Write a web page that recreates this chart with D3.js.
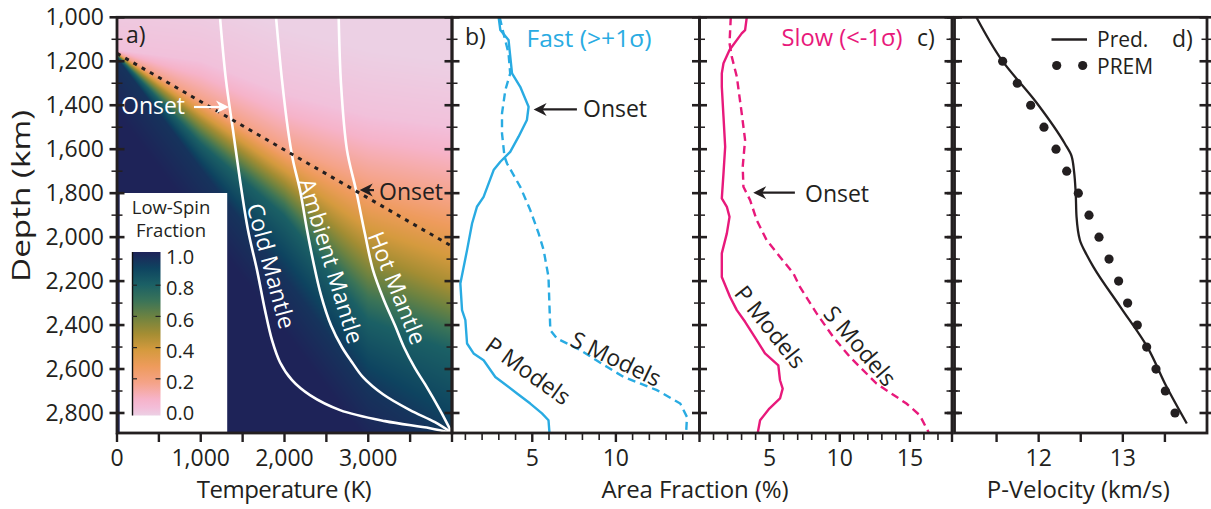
<!DOCTYPE html>
<html>
<head>
<meta charset="utf-8">
<script src="https://cdn.jsdelivr.net/npm/d3@7/dist/d3.min.js"></script>
<style>
html,body{margin:0;padding:0;background:#fff;}
svg text{font-family:"Open Sans","Liberation Sans",Arial,sans-serif;fill:#231f20;}
</style>
</head>
<body>
<svg id="chart" width="1211" height="509"></svg>
<script>
// ================= DATA =================
const depthTicks = [1000,1100,1200,1300,1400,1500,1600,1700,1800,1900,2000,2100,2200,2300,2400,2500,2600,2700,2800];
const depthTickLabels = [1000,1200,1400,1600,1800,2000,2200,2400,2600,2800];
const tempTicks = [0,500,1000,1500,2000,2500,3000,3500,4000];
const tempTickLabels = [0,1000,2000,3000];
const fastTicks = [1,2,3,4,5,6,7,8,9,10,11,12,13,14,15];
const fastTickLabels = [5,10];
const slowTicks = [1,2,3,4,5,6,7,8,9,10,11,12,13,14,15,16,17,18];
const slowTickLabels = [5,10,15];
const velTicks = [11.5,12,12.5,13,13.5];
const velTickLabels = [12,13];
const colorbarTicks = [0.2,0.4,0.6,0.8];
const colorbarTickLabels = [0.0,0.2,0.4,0.6,0.8,1.0];

// Panel a: low-spin fraction field, depths (km) where given fractions are reached, per temperature
const heatTemps   = [0, 1000, 2000, 3000, 4000];
const heatLevels  = [0.04, 0.2, 0.5, 0.8, 0.95];
const heatDepth04 = [1150, 1200, 1350, 1450, 1500];
const heatDepth20 = [1162, 1375, 1590, 1740, 1820];
const heatDepth50 = [1168, 1470, 1750, 2075, 2230];
const heatDepth80 = [1175, 1575, 1905, 2380, 2520];
const heatDepth95 = [1185, 1690, 2180, 2690, 2950];

// colour map of the low-spin fraction
const cmapStops  = [0, 0.05, 0.1, 0.2, 0.3, 0.4, 0.5, 0.6, 0.7, 0.8, 0.9, 1.0];
const cmapColors = ['#ecd0e4','#f3bdd8','#f6b3c9','#f5a388','#ee9b5c','#d59a3e','#a48d33','#6f8340','#3b7458','#1b6065','#0e4460','#1e2358'];

// geotherms (temperature K, depth km)
const coldT = [1230,1301,1385,1469,1564,1672,1767,1851,1946,2090,2304,2663,3200,3737,4000];
const coldD = [1000,1285,1513,1741,1968,2150,2332,2469,2569,2651,2719,2787,2837,2869,2891];
const ambT  = [1899,1970,2042,2101,2185,2269,2340,2436,2555,2687,2806,2937,3176,3499,3797,4000];
const ambD  = [1000,1285,1513,1650,1786,1968,2105,2264,2401,2501,2569,2637,2715,2787,2842,2891];
const hotT  = [2647,2675,2746,2854,2961,3057,3188,3319,3427,3558,3678,3857,4000];
const hotD  = [1000,1304,1604,1786,1986,2150,2287,2401,2501,2596,2669,2787,2891];
const onsetT = [0, 4000];
const onsetD = [1164, 2042];

// Panel b: fast (> +1 sigma) area fraction (%)
const fastPDepth = [1000,1058,1103,1255,1316,1407,1467,1543,1612,1657,1695,1817,1862,1938,2059,2211,2332,2378,2484,2529,2560,2636,2711,2757,2802,2833,2891];
const fastPVal   = [2.99,3.09,3.58,3.79,4.28,4.78,4.68,4.18,3.68,3.09,2.69,2.09,1.69,1.40,1.10,0.70,0.80,1.00,1.10,1.49,2.09,2.79,4.09,4.88,5.58,5.97,6.03];
const fastSDepth = [1000,1073,1164,1255,1331,1437,1528,1634,1665,1771,1877,1983,2059,2181,2317,2423,2461,2514,2590,2636,2696,2757,2818,2891];
const fastSVal   = [3.05,3.28,3.58,3.68,3.39,3.19,3.19,3.34,3.49,4.28,4.88,5.38,5.68,5.97,6.03,6.08,6.48,7.87,9.46,10.46,12.45,13.85,14.25,14.20];

// Panel c: slow (< -1 sigma) area fraction (%)
const slowPDepth = [1000,1058,1073,1149,1209,1255,1316,1452,1589,1710,1824,1862,1908,1983,2074,2181,2272,2332,2385,2469,2529,2583,2651,2689,2734,2780,2833,2891];
const slowPVal   = [3.37,3.25,3.01,2.14,1.71,1.59,1.59,1.71,1.83,1.71,1.59,1.95,2.14,1.95,1.59,1.59,2.18,2.66,3.25,4.08,4.67,5.62,5.74,5.93,5.74,4.98,4.32,4.15];
const slowSDepth = [1000,1118,1179,1270,1437,1558,1680,1771,1832,1923,2014,2090,2165,2226,2347,2454,2545,2666,2757,2810,2891];
const slowSVal   = [2.23,2.14,2.30,2.66,3.01,3.25,3.08,3.13,3.61,4.08,4.79,5.74,6.69,7.16,8.35,9.53,10.72,12.62,14.75,15.70,16.36];

// Panel d: P-velocity (km/s)
const predDepth = [1000,1194,1391,1574,1630,1700,1800,1908,2014,2080,2135,2317,2499,2681,2848];
const predVel   = [11.26,11.56,11.98,12.31,12.39,12.42,12.44,12.45,12.49,12.57,12.65,12.97,13.29,13.52,13.76];
const premDepth = [1200,1300,1400,1500,1600,1700,1800,1900,2000,2100,2200,2300,2400,2500,2600,2700,2800];
const premVel   = [11.572,11.746,11.905,12.063,12.206,12.333,12.471,12.598,12.717,12.836,12.950,13.057,13.172,13.283,13.394,13.505,13.620];

// ================= LAYOUT =================
const INK = '#231f20';
const FAST = '#29abe2';
const SLOW = '#e8197b';
const svg = d3.select('#chart');

const y  = d3.scaleLinear().domain([1000, 2891]).range([17.3, 433]);
const xA = d3.scaleLinear().domain([0, 4000]).range([117, 452]);
const xB = d3.scaleLinear().domain([0.2, 15]).range([452, 699.5]);
const xC = d3.scaleLinear().domain([0, 18]).range([699.5, 952]);
const xD = d3.scaleLinear().domain([11, 14]).range([954.5, 1207]);
const cmap = d3.scaleLinear().domain(cmapStops).range(cmapColors).interpolate(d3.interpolateRgb).clamp(true);

// ---------- Panel a heat field (canvas -> image) ----------
(function(){
  const x0 = xA.range()[0], x1 = xA.range()[1];
  const y0 = y.range()[0], y1 = y.range()[1];
  const w = Math.round(x1 - x0), h = Math.round(y1 - y0);
  const cv = document.createElement('canvas');
  cv.width = w; cv.height = h;
  const ctx = cv.getContext('2d');
  const img = ctx.createImageData(w, h);
  const levelSeries = [heatDepth04, heatDepth20, heatDepth50, heatDepth80, heatDepth95];
  const interps = levelSeries.map(s => d3.scaleLinear().domain(heatTemps).range(s));
  for (let i = 0; i < w; i++) {
    const T = xA.invert(x0 + i + 0.5);
    const ds = interps.map(f => f(T));
    const dom = [ds[0] - 300].concat(ds, [ds[4] + 250]);
    const rng = [0].concat(heatLevels, [1]);
    const fr = d3.scaleLinear().domain(dom).range(rng).clamp(true);
    for (let j = 0; j < h; j++) {
      const d = y.invert(y0 + j + 0.5);
      const c = d3.rgb(cmap(fr(d)));
      const k = (j * w + i) * 4;
      img.data[k] = c.r; img.data[k+1] = c.g; img.data[k+2] = c.b; img.data[k+3] = 255;
    }
  }
  ctx.putImageData(img, 0, 0);
  svg.append('image')
    .attr('href', cv.toDataURL())
    .attr('x', x0).attr('y', y0).attr('width', x1 - x0).attr('height', y1 - y0)
    .attr('preserveAspectRatio', 'none');
})();

// geotherms
const geoLine = d3.line().x(p => xA(p[0])).y(p => y(p[1])).curve(d3.curveCatmullRom.alpha(0.5));
[[coldT, coldD], [ambT, ambD], [hotT, hotD]].forEach(([T, D]) => {
  svg.append('path').datum(T.map((t, i) => [t, D[i]]))
    .attr('d', geoLine).attr('fill', 'none').attr('stroke', '#fff').attr('stroke-width', 2.6);
});
// onset dotted line
svg.append('path').datum(onsetT.map((t, i) => [t, onsetD[i]]))
  .attr('d', d3.line().x(p => xA(p[0])).y(p => y(p[1])))
  .attr('fill', 'none').attr('stroke', INK).attr('stroke-width', 3).attr('stroke-dasharray', '4,5.5');

// geotherm labels
function rotText(txt, cx, cy, ang, size, fill) {
  svg.append('text').attr('transform', `translate(${cx},${cy}) rotate(${ang})`)
    .attr('text-anchor', 'middle').attr('dy', '0.35em')
    .style('font-size', size + 'px').style('fill', fill).text(txt);
}
rotText('Cold Mantle', 271, 266, 75, 23, '#fff');
rotText('Ambient Mantle', 331, 261, 73, 23, '#fff');
rotText('Hot Mantle', 397, 288, 68, 23, '#fff');

// arrows
function arrow(x1, y1, x2, y2, color) {
  const ang = Math.atan2(y2 - y1, x2 - x1) * 180 / Math.PI;
  const len = Math.hypot(x2 - x1, y2 - y1);
  const g = svg.append('g').attr('transform', `translate(${x1},${y1}) rotate(${ang})`);
  g.append('line').attr('x1', 0).attr('y1', 0).attr('x2', len - 8).attr('y2', 0)
    .attr('stroke', color).attr('stroke-width', 2.2);
  g.append('path').attr('d', `M${len},0 L${len-13},-6.5 L${len-9},0 L${len-13},6.5 Z`).attr('fill', color);
}
// Panel a onset annotations
arrow(xA(919), y(1408), xA(1337), y(1408), '#fff');
svg.append('text').attr('x', 121).attr('y', 114).style('font-size', '23px').style('fill', '#fff').text('Onset');
arrow(xA(3069), y(1786), xA(2898), y(1786), INK);
svg.append('text').attr('x', 379).attr('y', 200).style('font-size', '23px').text('Onset');

// Legend box
svg.append('rect').attr('x', 119.7).attr('y', 193).attr('width', 107.5).attr('height', 433 - 193).attr('fill', '#fff');
svg.append('text').attr('x', 171).attr('y', 214).attr('text-anchor', 'middle').style('font-size', '18.5px').text('Low-Spin');
svg.append('text').attr('x', 171).attr('y', 237).attr('text-anchor', 'middle').style('font-size', '18.5px').text('Fraction');
const defs = svg.append('defs');
const grad = defs.append('linearGradient').attr('id', 'cbar').attr('x1', 0).attr('y1', 1).attr('x2', 0).attr('y2', 0);
cmapStops.forEach((s, i) => grad.append('stop').attr('offset', s).attr('stop-color', cmapColors[i]));
const cb = d3.scaleLinear().domain([0, 1]).range([413, 257]);
svg.append('rect').attr('x', 132).attr('y', 252).attr('width', 28.5).attr('height', 415.5 - 252).attr('fill', 'url(#cbar)');
svg.append('line').attr('x1', 132.5).attr('x2', 132.5).attr('y1', 252).attr('y2', 415.5).attr('stroke', '#111').attr('stroke-width', 1.4);
colorbarTicks.forEach(v => {
  svg.append('line').attr('x1', 132).attr('x2', 137).attr('y1', cb(v) - 3).attr('y2', cb(v) - 3).attr('stroke', '#222').attr('stroke-width', 1.2);
  svg.append('line').attr('x1', 155.5).attr('x2', 160.5).attr('y1', cb(v) - 3).attr('y2', cb(v) - 3).attr('stroke', '#222').attr('stroke-width', 1.2);
});
colorbarTickLabels.forEach(v => {
  svg.append('text').attr('x', 166).attr('y', cb(v)).attr('dy', '0.36em').style('font-size', '20px').text(d3.format('.1f')(v));
});

// ---------- Panel b ----------
const profLine = (xs) => d3.line().x(p => xs(p[0])).y(p => y(p[1]));
svg.append('path').datum(fastPVal.map((v, i) => [v, fastPDepth[i]])).attr('d', profLine(xB))
  .attr('fill', 'none').attr('stroke', FAST).attr('stroke-width', 2.4).attr('stroke-linejoin', 'round');
svg.append('path').datum(fastSVal.map((v, i) => [v, fastSDepth[i]])).attr('d', profLine(xB))
  .attr('fill', 'none').attr('stroke', FAST).attr('stroke-width', 2.4).attr('stroke-dasharray', '8,5');
svg.append('text').attr('x', 526.5).attr('y', 47).attr('textLength', 125).attr('lengthAdjust', 'spacingAndGlyphs')
  .style('font-size', '23.5px').style('fill', FAST).text('Fast (>+1σ)');
arrow(xB(7.67), y(1419), xB(5.08), y(1419), INK);
svg.append('text').attr('x', 583).attr('y', 117).style('font-size', '23px').text('Onset');
rotText('P Models', 528, 371, 35.5, 23, INK);
rotText('S Models', 616, 359, 25.7, 23, INK);

// ---------- Panel c ----------
svg.append('path').datum(slowPVal.map((v, i) => [v, slowPDepth[i]])).attr('d', profLine(xC))
  .attr('fill', 'none').attr('stroke', SLOW).attr('stroke-width', 2.4).attr('stroke-linejoin', 'round');
svg.append('path').datum(slowSVal.map((v, i) => [v, slowSDepth[i]])).attr('d', profLine(xC))
  .attr('fill', 'none').attr('stroke', SLOW).attr('stroke-width', 2.4).attr('stroke-dasharray', '8,5');
svg.append('text').attr('x', 781.5).attr('y', 46).attr('textLength', 121).attr('lengthAdjust', 'spacingAndGlyphs')
  .style('font-size', '23.5px').style('fill', SLOW).text('Slow (<-1σ)');
arrow(xC(6.8), y(1798), xC(3.83), y(1798), INK);
svg.append('text').attr('x', 805).attr('y', 201.5).style('font-size', '23px').text('Onset');
rotText('P Models', 770, 327, 51.5, 23, INK);
rotText('S Models', 860, 346, 49.4, 23, INK);

// ---------- Panel d ----------
svg.append('path').datum(predVel.map((v, i) => [v, predDepth[i]]))
  .attr('d', d3.line().x(p => xD(p[0])).y(p => y(p[1])).curve(d3.curveMonotoneY))
  .attr('fill', 'none').attr('stroke', INK).attr('stroke-width', 2.3);
svg.selectAll('circle.prem').data(premVel.map((v, i) => [v, premDepth[i]])).enter().append('circle')
  .attr('class', 'prem').attr('cx', p => xD(p[0])).attr('cy', p => y(p[1])).attr('r', 4.6).attr('fill', INK);
svg.append('line').attr('x1', 1051.5).attr('x2', 1087).attr('y1', 39.5).attr('y2', 39.5).attr('stroke', INK).attr('stroke-width', 2.3);
svg.append('text').attr('x', 1097).attr('y', 46.5).style('font-size', '21px').text('Pred.');
svg.append('circle').attr('cx', 1056.7).attr('cy', 65.5).attr('r', 4.6).attr('fill', INK);
svg.append('circle').attr('cx', 1082.7).attr('cy', 65.5).attr('r', 4.6).attr('fill', INK);
svg.append('text').attr('x', 1097).attr('y', 74).style('font-size', '21px').text('PREM');

// panel letters
svg.append('text').attr('x', 126).attr('y', 43).style('font-size', '23px').text('a)');
svg.append('text').attr('x', 465).attr('y', 45).style('font-size', '23px').text('b)');
svg.append('text').attr('x', 917).attr('y', 46).style('font-size', '23px').text('c)');
svg.append('text').attr('x', 1172).attr('y', 47).style('font-size', '23px').text('d)');

// ---------- Frames & ticks ----------
const panels = [xA, xB, xC, xD];
panels.forEach(xs => {
  const [a, b] = xs.range();
  svg.append('rect').attr('x', a).attr('y', y.range()[0]).attr('width', b - a).attr('height', y.range()[1] - y.range()[0])
    .attr('fill', 'none').attr('stroke', INK).attr('stroke-width', 2.8);
});
// crossing depth ticks on every vertical frame edge
const edges = [xA.range()[0], xA.range()[1], xB.range()[1], xC.range()[1], xD.range()[0], xD.range()[1]];
edges.forEach(ex => {
  depthTicks.forEach(d => {
    const major = depthTickLabels.includes(d);
    const L = major ? 7.5 : 5.5;
    svg.append('line').attr('x1', ex - L).attr('x2', ex + L).attr('y1', y(d)).attr('y2', y(d))
      .attr('stroke', INK).attr('stroke-width', major ? 2.6 : 1.5);
  });
});
// depth labels
const yAxis = svg.append('g').attr('transform', `translate(${xA.range()[0]},0)`)
  .call(d3.axisLeft(y).tickValues(depthTickLabels).tickFormat(d3.format(',')).tickSize(0).tickPadding(13));
yAxis.select('.domain').remove();
yAxis.selectAll('text').style('font-size', '23px').attr('fill', null);

// x ticks and labels
function xAxisTicks(xs, ticks, labels, majorSet, fmt) {
  const yb = y.range()[1];
  ticks.forEach(v => {
    const major = majorSet.includes(v);
    svg.append('line').attr('x1', xs(v)).attr('x2', xs(v)).attr('y1', yb).attr('y2', yb + (major ? 9 : 7))
      .attr('stroke', INK).attr('stroke-width', major ? 2.4 : 1.6);
  });
  labels.forEach(v => {
    svg.append('text').attr('x', xs(v)).attr('y', 466).attr('text-anchor', 'middle').style('font-size', '23px').text(fmt(v));
  });
}
xAxisTicks(xA, tempTicks, tempTickLabels, tempTicks, d3.format(','));
xAxisTicks(xB, fastTicks, fastTickLabels, [5,10,15], d3.format('d'));
xAxisTicks(xC, slowTicks, slowTickLabels, [5,10,15,18], d3.format('d'));
xAxisTicks(xD, velTicks, velTickLabels, velTicks, d3.format('d'));

// axis titles
svg.append('text').attr('transform', 'translate(30,196) rotate(-90)').attr('text-anchor', 'middle')
  .attr('textLength', 172).attr('lengthAdjust', 'spacingAndGlyphs').style('font-size', '26px').text('Depth (km)');
svg.append('text').attr('x', 284.2).attr('y', 498).attr('text-anchor', 'middle')
  .attr('textLength', 175).attr('lengthAdjust', 'spacing').style('font-size', '24px').text('Temperature (K)');
svg.append('text').attr('x', 695).attr('y', 498).attr('text-anchor', 'middle')
  .attr('textLength', 187).attr('lengthAdjust', 'spacing').style('font-size', '24px').text('Area Fraction (%)');
svg.append('text').attr('x', 1078.3).attr('y', 498).attr('text-anchor', 'middle')
  .attr('textLength', 183).attr('lengthAdjust', 'spacing').style('font-size', '24px').text('P-Velocity (km/s)');
</script>
</body>
</html>
